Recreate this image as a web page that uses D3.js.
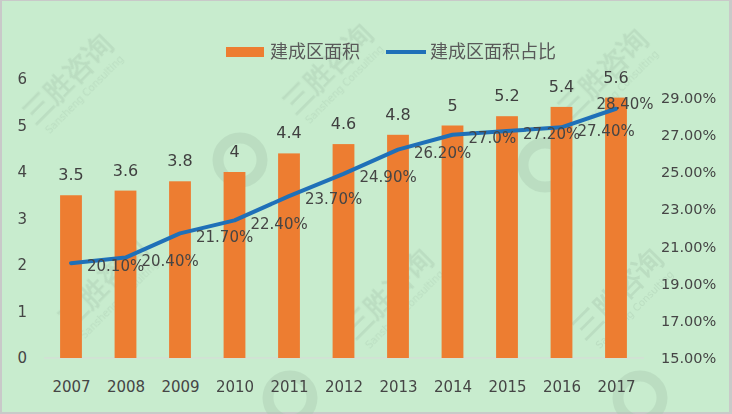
<!DOCTYPE html>
<html>
<head>
<meta charset="utf-8">
<script src="https://cdn.jsdelivr.net/npm/d3@7"></script>
<style>
  body { margin: 0; background: #fff; }
  svg text { font-family: "DejaVu Sans", sans-serif; }
</style>
</head>
<body>
<div id="chart"></div>
<script>
// 建成区面积 (bars, left axis) and 建成区面积占比 (line, right axis)
const years = ["2007", "2008", "2009", "2010", "2011", "2012", "2013", "2014", "2015", "2016", "2017"];
const area = [3.5, 3.6, 3.8, 4, 4.4, 4.6, 4.8, 5, 5.2, 5.4, 5.6];
const share = [20.1, 20.4, 21.7, 22.4, 23.7, 24.9, 26.2, 27.0, 27.2, 27.4, 28.4];
const shareLabels = ["20.10%", "20.40%", "21.70%", "22.40%", "23.70%", "24.90%", "26.20%", "27.0%", "27.20%", "27.40%", "28.40%"];
const leftTicks = [0, 1, 2, 3, 4, 5, 6];
const rightTicks = [15, 17, 19, 21, 23, 25, 27, 29];

const width = 732, height = 414;

const svg = d3.select("#chart")
    .append("svg")
    .attr("width", width)
    .attr("height", height);

// background + frame
svg.append("rect")
    .attr("width", width)
    .attr("height", height)
    .attr("fill", "#c9c9c9");
svg.append("rect")
    .attr("x", 2).attr("y", 1)
    .attr("width", 727).attr("height", 411)
    .attr("fill", "#c8ecce");

// faint watermarks
const wm = svg.append("g").attr("fill", "#a9c9b0").attr("opacity", 0.4);
[[75, 85], [335, 75], [610, 80], [110, 290], [395, 300], [625, 300]].forEach(([cx, cy]) => {
    const g = wm.append("g").attr("transform", `translate(${cx},${cy}) rotate(-45)`);
    g.append("text")
        .attr("text-anchor", "middle")
        .style("font-size", "28px")
        .style("font-weight", "bold")
        .text("三胜咨询");
    g.append("text")
        .attr("y", 17)
        .attr("text-anchor", "middle")
        .style("font-size", "10px")
        .text("Sansheng Consulting");
});
[[240, 160], [545, 165], [290, 398], [640, 398]].forEach(([cx, cy]) => {
    wm.append("circle")
        .attr("cx", cx).attr("cy", cy).attr("r", 22)
        .attr("fill", "none")
        .attr("stroke", "#a9c9b0")
        .attr("stroke-width", 11);
});

// scales
const x = d3.scalePoint()
    .domain(years)
    .range([71, 616]);
const barW = x.step() * 0.4;

const yL = d3.scaleLinear().domain([0, 6]).range([358, 79]);
const yR = d3.scaleLinear().domain([15, 30]).range([358, 79]);

// baseline
svg.append("line")
    .attr("x1", 44).attr("x2", 644)
    .attr("y1", yL(0)).attr("y2", yL(0))
    .attr("stroke", "#d9d9d9")
    .attr("stroke-width", 1);

// bars
svg.selectAll(".bar")
    .data(years)
    .enter()
    .append("rect")
    .attr("class", "bar")
    .attr("x", d => x(d) - barW / 2)
    .attr("y", (d, i) => yL(area[i]))
    .attr("width", barW)
    .attr("height", (d, i) => yL(0) - yL(area[i]))
    .attr("fill", "#ed7d31");

// bar value labels
svg.selectAll(".barlabel")
    .data(years)
    .enter()
    .append("text")
    .attr("x", d => x(d))
    .attr("y", (d, i) => yL(area[i]) - 15)
    .attr("text-anchor", "middle")
    .attr("fill", "#404040")
    .style("font-size", "16px")
    .text((d, i) => area[i]);

// line
const line = d3.line()
    .x(d => x(d))
    .y((d, i) => yR(share[i]));

svg.append("path")
    .datum(years)
    .attr("d", line)
    .attr("fill", "none")
    .attr("stroke", "#1f70b8")
    .attr("stroke-width", 4)
    .attr("stroke-linejoin", "round")
    .attr("stroke-linecap", "round");

// line labels (last one sits above the point)
svg.selectAll(".linelabel")
    .data(years)
    .enter()
    .append("text")
    .attr("x", (d, i) => i === years.length - 1 ? x(d) + 9 : x(d) + 16)
    .attr("y", (d, i) => i === years.length - 1 ? yR(share[i]) - 5 : yR(share[i]) + 3)
    .attr("dy", "0.35em")
    .attr("text-anchor", (d, i) => i === years.length - 1 ? "middle" : "start")
    .attr("fill", "#454545")
    .style("font-size", "15px")
    .text((d, i) => shareLabels[i]);

// axes
const axisL = svg.append("g")
    .attr("transform", "translate(27,0)")
    .call(d3.axisLeft(yL).tickValues(leftTicks).tickSize(0).tickPadding(0)
        .tickFormat(d3.format("d")));

const axisR = svg.append("g")
    .attr("transform", "translate(655,0)")
    .call(d3.axisRight(yR).tickValues(rightTicks).tickSize(0).tickPadding(6)
        .tickFormat(d => d.toFixed(2) + "%"));

const axisX = svg.append("g")
    .attr("transform", "translate(0,381)")
    .call(d3.axisBottom(x).tickSize(0).tickPadding(0));

[axisL, axisR, axisX].forEach(a => {
    a.select(".domain").remove();
    a.selectAll("text")
        .attr("fill", "#454545")
        .style("font-family", "DejaVu Sans, sans-serif");
});
axisL.selectAll("text").style("font-size", "15px");
axisR.selectAll("text").style("font-size", "14.5px");
axisX.selectAll("text").style("font-size", "15px");

// legend
const legend = svg.append("g").style("font-size", "18px");
legend.append("rect")
    .attr("x", 226).attr("y", 47)
    .attr("width", 38).attr("height", 10)
    .attr("fill", "#ed7d31");
legend.append("text")
    .attr("x", 270).attr("y", 52)
    .attr("dy", "0.35em")
    .attr("fill", "#595959")
    .style("font-family", "Noto Sans CJK SC, sans-serif")
    .text("建成区面积");
legend.append("line")
    .attr("x1", 386).attr("x2", 426)
    .attr("y1", 52).attr("y2", 52)
    .attr("stroke", "#1f70b8")
    .attr("stroke-width", 4);
legend.append("text")
    .attr("x", 430).attr("y", 52)
    .attr("dy", "0.35em")
    .attr("fill", "#595959")
    .style("font-family", "Noto Sans CJK SC, sans-serif")
    .text("建成区面积占比");
</script>
</body>
</html>
